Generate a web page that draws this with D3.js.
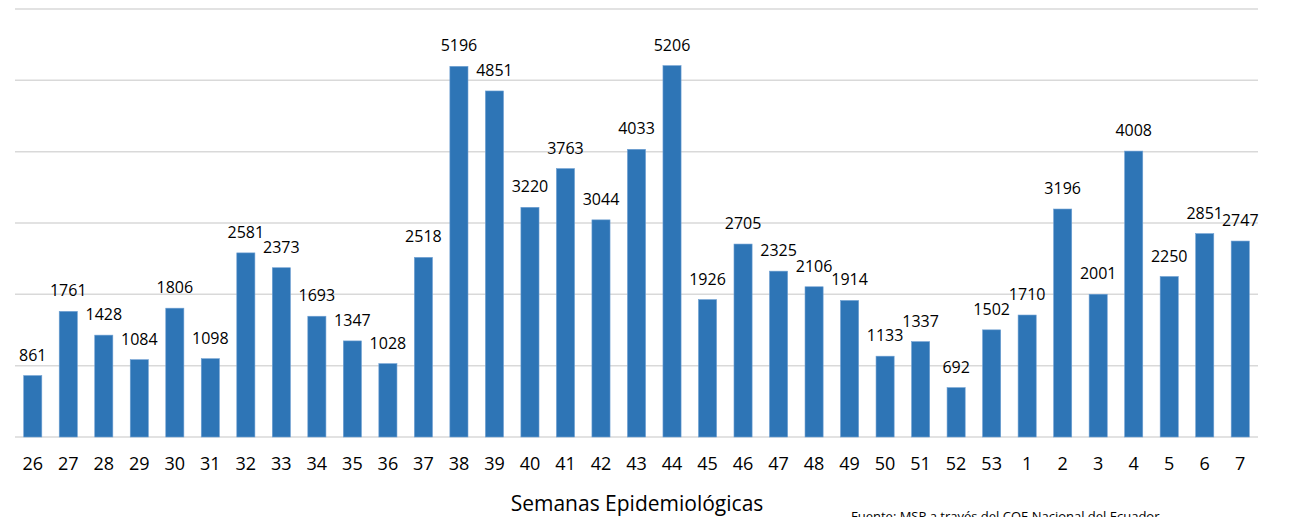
<!DOCTYPE html>
<html>
<head>
<meta charset="utf-8">
<script src="https://cdn.jsdelivr.net/npm/d3@7"></script>
<style>
  body { margin: 0; background: #fff; }
  text { font-family: "Open Sans", sans-serif; fill: #000; }
</style>
</head>
<body>
<div id="chart"></div>
<script>
var width = 1289;
var height = 517;

// semanas epidemiologicas y casos
var semanas = ['26','27','28','29','30','31','32','33','34','35','36','37','38','39','40','41','42','43','44',
  '45','46','47','48','49','50','51','52','53','1','2','3','4','5','6','7'];
var casos = [861,1761,1428,1084,1806,1098,2581,2373,1693,1347,1028,2518,5196,4851,3220,3763,3044,4033,5206,
  1926,2705,2325,2106,1914,1133,1337,692,1502,1710,3196,2001,4008,2250,2851,2747];
var gridTicks = [0,1000,2000,3000,4000,5000,6000];

var svg = d3.select('#chart').append('svg')
  .attr('width', width)
  .attr('height', height);

var xScale = d3.scaleBand()
  .domain(semanas)
  .range([15, 1258])
  .paddingInner(0.49)
  .paddingOuter(0.245);

var yScale = d3.scaleLinear()
  .domain([0, 6000])
  .range([437, 9]);

// lineas de la grilla
svg.selectAll('.grid')
  .data(gridTicks)
  .enter().append('line')
  .attr('x1', 15)
  .attr('x2', 1258)
  .attr('y1', function(d){ return yScale(d); })
  .attr('y2', function(d){ return yScale(d); })
  .attr('stroke', '#d9d9d9')
  .attr('stroke-width', 1.5);

svg.selectAll('.bar')
  .data(casos)
  .enter().append('rect')
  .attr('x', function(d, i){ return xScale(semanas[i]); })
  .attr('y', function(d){ return yScale(d); })
  .attr('width', xScale.bandwidth())
  .attr('height', function(d){ return yScale(0) - yScale(d); })
  .attr('fill', '#2e75b6')
  .attr('stroke', '#6fa0d3')
  .attr('stroke-width', 0.6);

// etiquetas de valores
svg.selectAll('.lbl')
  .data(casos)
  .enter().append('text')
  .attr('x', function(d, i){ return xScale(semanas[i]) + xScale.bandwidth() / 2; })
  .attr('y', function(d){ return yScale(d) - 15; })
  .attr('text-anchor', 'middle')
  .style('font-size', '16px')
  .text(function(d){ return d; });

// eje x
var xAxis = svg.append('g')
  .attr('transform', 'translate(0,437)')
  .call(d3.axisBottom(xScale).tickSize(0).tickPadding(20));
xAxis.select('.domain').remove();
xAxis.selectAll('text')
  .style('font-size', '18px')
  .style('font-family', '"Open Sans", sans-serif')
  .attr('fill', '#000');

svg.append('text')
  .attr('x', 637)
  .attr('y', 511)
  .attr('text-anchor', 'middle')
  .style('font-size', '21px')
  .text('Semanas Epidemiológicas');

svg.append('text')
  .attr('x', 851)
  .attr('y', 521)
  .style('font-size', '13px')
  .text('Fuente: MSP a través del COE Nacional del Ecuador');
</script>
</body>
</html>
